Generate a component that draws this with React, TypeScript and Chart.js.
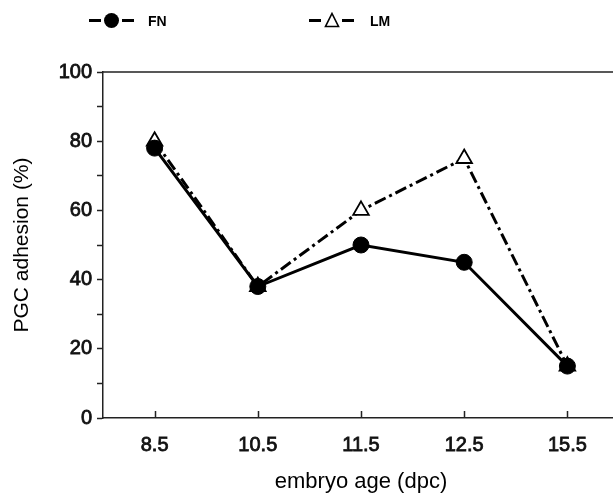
import React, { useEffect, useRef } from "react";
import { Chart, registerables } from "chart.js";

Chart.register(...registerables);

const categories = ["8.5", "10.5", "11.5", "12.5", "15.5"];
const fnValues = [78, 38, 50, 45, 15];
const lmValues = [80, 38, 60, 75, 15];
const yTickLabels = [0, 20, 40, 60, 80, 100];

const FONT = "'Liberation Sans', Arial, Helvetica, sans-serif";

const framePlugin = {
  id: "frame",
  afterDraw(chart: any) {
    const { ctx, chartArea: a, scales } = chart;
    const x = scales.x;
    ctx.save();
    ctx.strokeStyle = "#222";
    ctx.lineWidth = 1.5;
    ctx.beginPath();
    ctx.moveTo(a.left, a.top);
    ctx.lineTo(a.right, a.top);
    categories.forEach((_, i) => {
      const px = Math.round(x.getPixelForValue(i)) + 0.5;
      ctx.moveTo(px, a.bottom);
      ctx.lineTo(px, a.bottom - 7);
    });
    ctx.stroke();
    ctx.restore();
  },
};

export default function App() {
  const ref = useRef<HTMLCanvasElement | null>(null);

  useEffect(() => {
    if (!ref.current) return;
    const chart = new Chart(ref.current, {
      type: "line",
      data: {
        labels: categories,
        datasets: [
          {
            label: "FN",
            data: fnValues,
            borderColor: "#000",
            backgroundColor: "#000",
            borderWidth: 3,
            pointStyle: "circle",
            pointRadius: 8,
            pointBorderWidth: 1,
            pointBackgroundColor: "#000",
            pointBorderColor: "#000",
            tension: 0,
          },
          {
            label: "LM",
            data: lmValues,
            borderColor: "#000",
            backgroundColor: "#fff",
            borderWidth: 3,
            borderDash: [12, 4, 3, 4],
            pointStyle: "triangle",
            pointRadius: 9,
            pointBorderWidth: 1.8,
            pointBackgroundColor: "#fff",
            pointBorderColor: "#000",
            tension: 0,
          },
        ],
      },
      options: {
        responsive: false,
        animation: false,
        layout: { padding: { left: 0, right: 21, top: 72, bottom: 0 } },
        plugins: {
          legend: { display: false },
          tooltip: { enabled: false },
        },
        scales: {
          x: {
            type: "category",
            offset: true,
            border: { display: true, color: "#222", width: 1.5 },
            grid: { display: true, drawOnChartArea: false, drawTicks: false, color: "rgba(0,0,0,0)" },
            ticks: {
              padding: 15,
              color: "#111",
              textStrokeColor: "#111",
              textStrokeWidth: 0.8,
              font: { family: FONT, size: 20 },
              maxRotation: 0,
            },
            title: {
              display: true,
              text: "embryo age (dpc)",
              color: "#000",
              font: { family: FONT, size: 22 },
              padding: { top: 0, bottom: 1 },
            },
            afterFit(scale: any) {
              scale.height = 78;
            },
          },
          y: {
            type: "linear",
            min: 0,
            max: 100,
            border: { display: true, color: "#222", width: 1.5 },
            grid: {
              display: true,
              drawOnChartArea: false,
              drawTicks: true,
              tickLength: 6,
              tickWidth: 1.5,
              color: "#222",
            },
            ticks: {
              stepSize: 10,
              padding: 5,
              color: "#111",
              textStrokeColor: "#111",
              textStrokeWidth: 0.8,
              font: { family: FONT, size: 20 },
              callback: (v: any) => (yTickLabels.includes(Number(v)) ? String(v) : ""),
            },
            title: {
              display: true,
              text: "PGC adhesion (%)",
              color: "#000",
              font: { family: FONT, size: 21 },
              padding: { top: 9.5, bottom: 0 },
            },
            afterFit(scale: any) {
              scale.width = 103;
            },
          },
        },
      },
      plugins: [framePlugin],
    });
    return () => chart.destroy();
  }, []);

  const dash = (left: number) => (
    <div style={{ position: "absolute", left, top: 19, width: 12, height: 3, background: "#000" }} />
  );

  return (
    <div
      style={{
        position: "fixed",
        left: 0,
        top: 0,
        width: 613,
        height: 496,
        overflow: "hidden",
        background: "#fff",
      }}
    >
      <canvas ref={ref} width={640} height={496} style={{ position: "absolute", left: 0, top: 0 }} />
      {dash(89)}
      <div
        style={{
          position: "absolute",
          left: 104,
          top: 13,
          width: 15,
          height: 15,
          borderRadius: "50%",
          background: "#000",
        }}
      />
      {dash(122)}
      <div
        style={{
          position: "absolute",
          left: 148,
          top: 12,
          fontFamily: FONT,
          fontWeight: "bold",
          fontSize: 14,
          lineHeight: "18px",
          color: "#000",
        }}
      >
        FN
      </div>
      {dash(309)}
      <svg width={16} height={16} style={{ position: "absolute", left: 324, top: 12 }}>
        <polygon points="8,1.5 14.5,14.5 1.5,14.5" fill="#fff" stroke="#000" strokeWidth={1.6} />
      </svg>
      {dash(342)}
      <div
        style={{
          position: "absolute",
          left: 370,
          top: 12,
          fontFamily: FONT,
          fontWeight: "bold",
          fontSize: 14,
          lineHeight: "18px",
          color: "#000",
        }}
      >
        LM
      </div>
    </div>
  );
}
